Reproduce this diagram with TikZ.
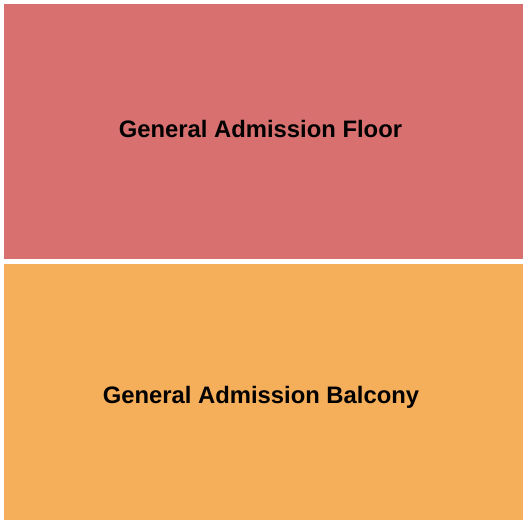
\documentclass[tikz,border=0pt]{standalone}
\usepackage{fontspec}
\setmainfont{Liberation Sans}
\definecolor{floorc}{HTML}{D97070}
\definecolor{balcc}{HTML}{F5AE5A}
\begin{document}
\begin{tikzpicture}[x=1bp,y=-1bp,
  lbl/.style={font=\fontsize{23.9}{26}\selectfont\bfseries, text=black, inner sep=0pt, anchor=base}]
\useasboundingbox (0,0) rectangle (525,525);
\fill[floorc] (4,4) rectangle (523,259);
\fill[balcc] (4,264) rectangle (523,520);
\node[lbl] (floor) at (260.5,138) {General Admission Floor};
\node[lbl] (balc) at (261,403) {General Admission Balcony};
\end{tikzpicture}
\end{document}
